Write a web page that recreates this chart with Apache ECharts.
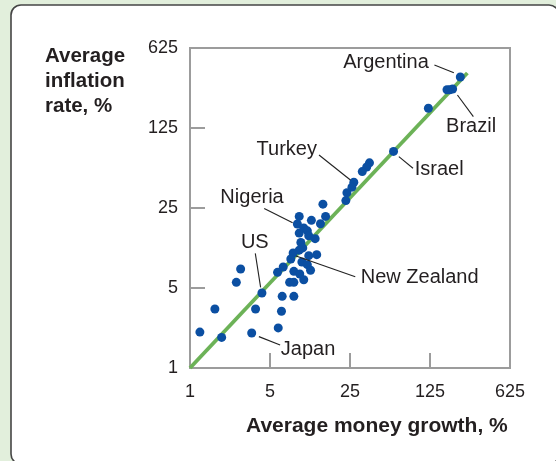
<!DOCTYPE html>
<html>
<head>
<meta charset="utf-8">
<script src="https://cdn.jsdelivr.net/npm/echarts@6/dist/echarts.min.js"></script>
<style>
html,body{margin:0;padding:0;background:#e2efdc;}
#c{width:556px;height:461px;}
</style>
</head>
<body>
<div id="c"></div>
<script>
// Axis ticks (log base 5)
var tickValues = [1, 5, 25, 125, 625];

// Country observations: average money growth (%) and average inflation (%)
var moneyGrowth = [230, 176, 186, 197, 121, 60, 37, 35, 32, 27, 26, 23.5, 23, 14.5, 15.3, 11.5, 13.8, 9.0, 8.67, 9.0,
  9.86, 10.6, 10.9, 12.4, 9.3, 9.66, 9.0, 7.96, 7.6, 10.9, 12.8, 9.5, 10.6, 11.3, 8.08, 9.1, 6.52, 5.82, 7.42, 8.08,
  9.86, 6.39, 8.08, 6.3, 5.9, 4.25, 3.74, 3.46, 2.77, 2.54, 1.65, 1.89, 1.22];
var inflation = [349, 270, 270, 274, 186, 78, 62, 57, 52, 42, 38, 34, 29, 27, 21.1, 19.5, 18.2, 21.1, 18.1, 15.1,
  16.7, 15.8, 14.3, 13.5, 12.5, 11.2, 10.7, 10.1, 8.96, 9.58, 9.78, 8.43, 8.0, 7.14, 6.99, 6.63, 7.63, 6.85, 5.6, 5.6,
  5.9, 4.23, 4.23, 3.13, 2.24, 4.52, 3.28, 2.02, 7.33, 5.6, 3.28, 1.85, 2.06];

// Fitted line end points
var fitX = [1, 265];
var fitY = [1, 378];

// Annotations: name, label position, leader line start/end (data units)
var labelNames = ['Argentina', 'Brazil', 'Israel', 'Turkey', 'Nigeria', 'US', 'New Zealand', 'Japan'];
var labelX = [52.1, 288.6, 151.9, 7.07, 3.52, 3.72, 102.6, 10.85];
var labelY = [459, 128, 53.7, 80.3, 30.4, 12.4, 6.08, 1.44];
var leaderX1 = [136.6, 217, 66.8, 13.4, 4.45, 3.72, 8.45, 4.0];
var leaderY1 = [444, 243, 70.2, 72.6, 24.8, 10.05, 9.52, 1.88];
var leaderX2 = [202, 299, 88.8, 25.2, 7.88, 4.14, 27.8, 6.13];
var leaderY2 = [380, 157, 55.6, 43.9, 18.6, 5.07, 6.28, 1.59];

var points = moneyGrowth.map(function (x, i) { return [x, inflation[i]]; });
var labelData = labelNames.map(function (n, i) { return { name: n, value: [labelX[i], labelY[i]] }; });
var leaderData = labelNames.map(function (n, i) {
  return [{ coord: [leaderX1[i], leaderY1[i]] }, { coord: [leaderX2[i], leaderY2[i]] }];
});

var gray = '#9c9c9c';
var textColor = '#231f20';
var font = 'Liberation Sans, Arial, Helvetica, sans-serif';

var chart = echarts.init(document.getElementById('c'), null, { renderer: 'canvas' });
chart.setOption({
  animation: false,
  backgroundColor: '#e2efdc',
  graphic: [
    { type: 'rect', z: -10, shape: { x: 11, y: 5, width: 548, height: 459, r: 10 },
      style: { fill: '#ffffff', stroke: '#454545', lineWidth: 1.6 } },
    { type: 'text', left: 45, top: 44, z: 10,
      style: { text: 'Average\ninflation\nrate, %', fill: textColor, font: 'bold 20.5px ' + font, lineHeight: 25 } },
    { type: 'text', left: 246, top: 416, z: 10,
      style: { text: 'Average money growth, %', fill: textColor, font: 'bold 21px ' + font } }
  ],
  grid: { left: 190, top: 48, width: 320, height: 320, show: true, borderColor: gray, borderWidth: 2, backgroundColor: 'transparent' },
  xAxis: {
    type: 'log', logBase: 5, min: tickValues[0], max: tickValues[tickValues.length - 1],
    axisLine: { lineStyle: { color: gray, width: 2 } },
    axisTick: { inside: true, length: 15, lineStyle: { color: gray, width: 2 } },
    splitLine: { show: false },
    axisLabel: { color: textColor, fontSize: 18, fontFamily: font, margin: 15,
      formatter: function (v) { return String(Math.round(v)); } }
  },
  yAxis: {
    type: 'log', logBase: 5, min: tickValues[0], max: tickValues[tickValues.length - 1],
    axisLine: { lineStyle: { color: gray, width: 2 } },
    axisTick: { inside: true, length: 15, lineStyle: { color: gray, width: 2 } },
    splitLine: { show: false },
    axisLabel: { color: textColor, fontSize: 18, fontFamily: font, margin: 12,
      formatter: function (v) { return String(Math.round(v)); } }
  },
  series: [
    { type: 'line', data: [[fitX[0], fitY[0]], [fitX[1], fitY[1]]], symbol: 'none',
      lineStyle: { color: '#6cb257', width: 3.8 }, z: 2 },
    { type: 'scatter', data: points, symbol: 'circle', symbolSize: 9,
      itemStyle: { color: '#0b4fa2', opacity: 1 }, z: 3 },
    { type: 'scatter', data: labelData, symbolSize: 1, z: 4, silent: true,
      itemStyle: { color: 'rgba(0,0,0,0)' },
      label: { show: true, position: [0, 0], align: 'center', verticalAlign: 'middle', formatter: '{b}',
        color: '#231f20', fontSize: 20, fontFamily: font, opacity: 1 },
      markLine: { silent: true, symbol: 'none', data: leaderData, label: { show: false },
        lineStyle: { color: '#222', width: 1.1, type: 'solid' } } }
  ]
});
</script>
</body>
</html>
